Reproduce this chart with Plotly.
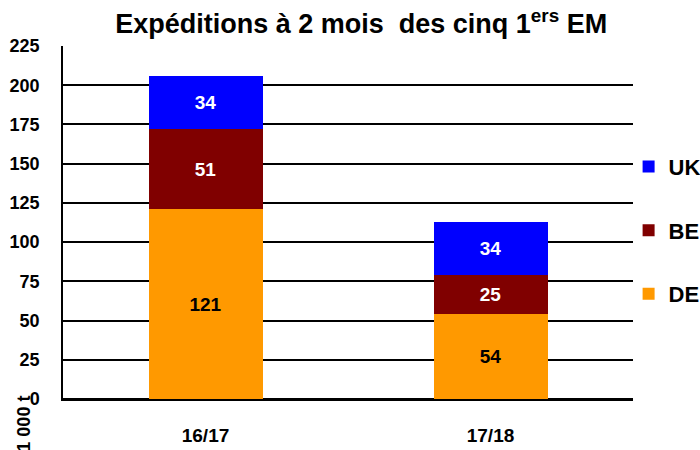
import plotly.graph_objects as go

categories = ["16/17", "17/18"]
de_values = [121, 54]
be_values = [51, 25]
uk_values = [34, 34]
y_ticks = [0, 25, 50, 75, 100, 125, 150, 175, 200, 225]

font_family = "Liberation Sans, Arial, sans-serif"

fig = go.Figure()
series = [
    ("DE", de_values, "#FF9900", "black", 3),
    ("BE", be_values, "#800000", "white", 2),
    ("UK", uk_values, "#0000FF", "white", 1),
]
for name, vals, color, tcolor, rank in series:
    fig.add_trace(go.Bar(
        x=categories, y=vals, name=f"<b>{name}</b>", legendgroup=name,
        legendrank=rank,
        marker=dict(color=color, line=dict(width=0)),
        text=[f"<b>{v}</b>" for v in vals], textposition="inside",
        insidetextanchor="middle", texttemplate="%{text}",
        textfont=dict(family=font_family, size=19, color=tcolor),
        width=0.4,
    ))

fig.update_layout(
    barmode="stack",
    width=700, height=450,
    margin=dict(l=63, r=67, t=46, b=51, autoexpand=False),
    paper_bgcolor="white", plot_bgcolor="white",
    font=dict(family=font_family, color="black"),
    title=dict(
        text="<b>Expéditions à 2 mois  des cinq 1<sup>ers</sup> EM</b>",
        x=0.516, xanchor="center", y=0.947, yanchor="middle",
        font=dict(family=font_family, size=27, color="black"),
    ),
    showlegend=True,
    legend=dict(
        xref="container", yref="container",
        x=0.898, xanchor="left", y=0.676, yanchor="top",
        traceorder="grouped", tracegroupgap=32,
        font=dict(family=font_family, size=22, color="black"),
        bgcolor="rgba(0,0,0,0)", itemwidth=30,
    ),
    uniformtext=dict(mode="show", minsize=10),
)

fig.update_yaxes(
    range=[0, 225], tickvals=y_ticks,
    ticktext=[f"<b>{v}</b>" for v in y_ticks],
    showgrid=True, gridcolor="black", gridwidth=1.5,
    showline=True, linecolor="black", linewidth=1.5,
    ticks="", ticklabelstandoff=18,
    tickfont=dict(family=font_family, size=18, color="black"),
    zeroline=True, zerolinecolor="black", zerolinewidth=2,
)
fig.update_xaxes(
    tickvals=categories, ticktext=[f"<b>{c}</b>" for c in categories],
    showgrid=False, showline=True, linecolor="black", linewidth=2,
    ticks="", ticklabelstandoff=18,
    tickfont=dict(family=font_family, size=19, color="black"),
    range=[-0.5, 1.5],
)

fig.add_annotation(
    text="<b>1 000 t</b>", textangle=-90,
    xref="paper", yref="paper", x=-0.068, y=0.013,
    xanchor="center", yanchor="top", showarrow=False, borderpad=0,
    font=dict(family=font_family, size=18, color="black"),
)

fig.write_html(
    "out.html",
    config={"displayModeBar": False},
    post_script="document.body.style.margin='0';document.body.style.padding='0';",
)
